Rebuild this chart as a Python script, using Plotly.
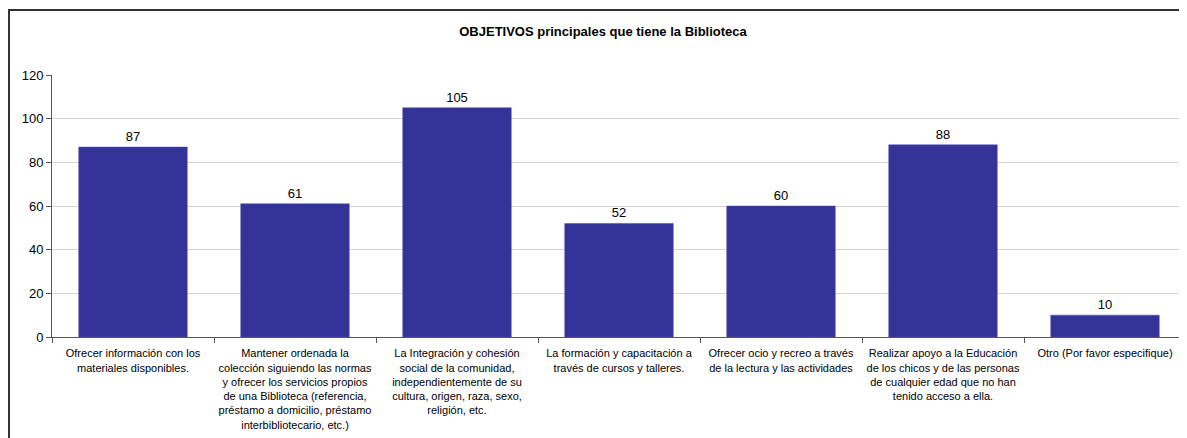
import plotly.graph_objects as go

categories = [
    "Ofrecer información con los<br>materiales disponibles.",
    "Mantener ordenada la<br>colección siguiendo las normas<br>y ofrecer los servicios propios<br>de una Biblioteca (referencia,<br>préstamo a domicilio, préstamo<br>interbibliotecario, etc.)",
    "La Integración y cohesión<br>social de la comunidad,<br>independientemente de su<br>cultura, origen, raza, sexo,<br>religión, etc.",
    "La formación y capacitación a<br>través de cursos y talleres.",
    "Ofrecer ocio y recreo a través<br>de la lectura y las actividades",
    "Realizar apoyo a la Educación<br>de los chicos y de las personas<br>de cualquier edad que no han<br>tenido acceso a ella.",
    "Otro (Por favor especifique)",
]
values = [87, 61, 105, 52, 60, 88, 10]
y_ticks = [0, 20, 40, 60, 80, 100, 120]

# page has an 8px body margin; figure sized to fit window
OFF = 8
W, H = 1187 - OFF, 438 - OFF
L, R, T, B = 52 - OFF, 1, 75 - OFF, 101
pw, ph = W - L - R, H - T - B

FONT = "Liberation Sans, Arial, sans-serif"

fig = go.Figure(go.Bar(
    x=categories, y=values,
    marker=dict(color="#333399", line=dict(color="#4a4aa8", width=0.5)),
    width=0.67,
    text=values, textposition="outside", textfont=dict(size=13, color="#000"),
    cliponaxis=False,
))

fig.update_layout(
    width=W, height=H,
    margin=dict(l=L, r=R, t=T, b=B, autoexpand=False),
    paper_bgcolor="white", plot_bgcolor="white",
    font=dict(family=FONT, color="#000"),
    showlegend=False,
    title=dict(text="<b>OBJETIVOS principales que tiene la Biblioteca</b>",
               x=(603 - OFF) / W, xanchor="center", xref="container",
               y=1 - (31 - OFF) / H, yanchor="middle", yref="container",
               font=dict(size=13, family=FONT)),
    bargap=0.33,
)
fig.update_xaxes(
    showline=True, linecolor="#555", linewidth=1,
    ticks="outside", tickson="boundaries", ticklen=5, tickcolor="#555",
    tickfont=dict(size=11, family=FONT), showgrid=False,
    tickangle=0, automargin=False, ticklabelstandoff=6,
)
fig.update_yaxes(
    range=[0, 120], tickvals=y_ticks,
    showline=True, linecolor="#555", linewidth=1,
    ticks="outside", ticklen=5, tickcolor="#555",
    showgrid=True, gridcolor="#d4d4d4", gridwidth=1,
    tickfont=dict(size=13, family=FONT), zeroline=False,
    automargin=False,
)
# outer chart frame (left and top edges visible)
fig.add_shape(type="rect", xref="paper", yref="paper",
              x0=(1 - L) / pw, x1=(W + 20 - L) / pw,
              y0=-(B + 20) / ph, y1=1 + (T - 2) / ph,
              line=dict(color="#333", width=2), layer="above")

fig.write_html("out.html")
